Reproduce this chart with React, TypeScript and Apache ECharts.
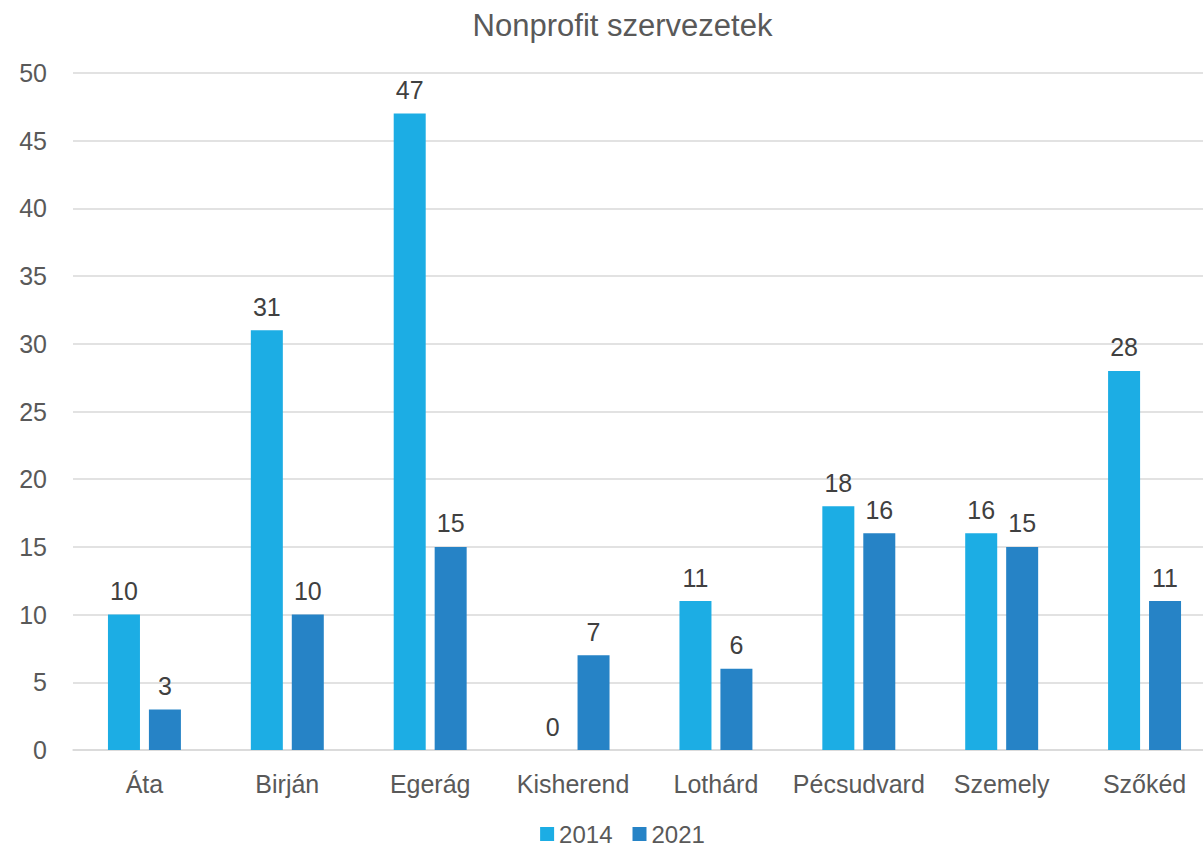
import React, { useEffect, useRef } from "react";
import * as echarts from "echarts";

const categories = ["Áta", "Birján", "Egerág", "Kisherend", "Lothárd", "Pécsudvard", "Szemely", "Szőkéd"];
const values2014 = [10, 31, 47, 0, 11, 18, 16, 28];
const values2021 = [3, 10, 15, 7, 6, 16, 15, 11];
const seriesNames = ["2014", "2021"];
const titleText = "Nonprofit szervezetek";

const FONT = "'Liberation Sans', Arial, sans-serif";

export default function App() {
  const ref = useRef<HTMLDivElement>(null);
  useEffect(() => {
    if (!ref.current) return;
    const chart = echarts.init(ref.current, undefined, { renderer: "svg" });
    const label = {
      show: true,
      position: "top",
      distance: 11,
      color: "#404040",
      fontSize: 25,
      fontFamily: FONT,
    };
    chart.setOption({
      animation: false,
      textStyle: { fontFamily: FONT },
      title: {
        text: titleText,
        left: "center",
        top: 5,
        textStyle: { color: "#595959", fontSize: 31, fontWeight: "normal", fontFamily: FONT },
      },
      legend: {
        top: 822,
        left: "center",
        padding: 0,
        itemWidth: 14,
        itemHeight: 14,
        itemGap: 20,
        icon: "rect",
        textStyle: { color: "#595959", fontSize: 24, lineHeight: 22, fontFamily: FONT },
        data: seriesNames,
      },
      grid: { left: 73, top: 73, width: 1143, height: 677 },
      xAxis: {
        type: "category",
        data: categories,
        axisLine: { lineStyle: { color: "#D9D9D9", width: 1.5 } },
        axisTick: { show: false },
        axisLabel: { color: "#595959", fontSize: 25, margin: 21, interval: 0, fontFamily: FONT },
      },
      yAxis: {
        type: "value",
        min: 0,
        max: 50,
        interval: 5,
        axisLine: { show: false },
        axisTick: { show: false },
        splitLine: { lineStyle: { color: "#D9D9D9", width: 1.5 } },
        axisLabel: { color: "#595959", fontSize: 25, margin: 26, fontFamily: FONT },
      },
      series: [
        {
          name: seriesNames[0],
          type: "bar",
          data: values2014,
          barWidth: 32,
          barGap: "28%",
          itemStyle: { color: "#1CADE4" },
          label,
        },
        {
          name: seriesNames[1],
          type: "bar",
          data: values2021,
          barWidth: 32,
          barGap: "28%",
          itemStyle: { color: "#2683C6" },
          label,
        },
      ],
    });
    return () => chart.dispose();
  }, []);
  return (
    <div
      style={{ position: "fixed", left: 0, top: 0, width: 1203, height: 848, overflow: "hidden", background: "#fff" }}
    >
      <div ref={ref} style={{ width: 1245, height: 848 }} />
    </div>
  );
}
